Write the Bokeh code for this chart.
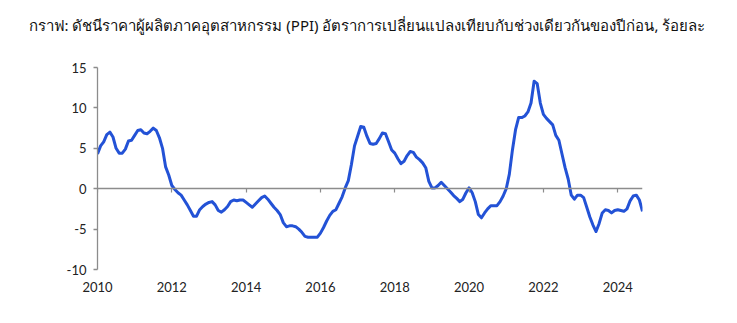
from bokeh.plotting import figure
from bokeh.models import LinearAxis, FixedTicker, Range1d, Title
from bokeh.embed import file_html
from bokeh.resources import INLINE

title_text = "กราฟ: ดัชนีราคาผู้ผลิตภาคอุตสาหกรรม (PPI) อัตราการเปลี่ยนแปลงเทียบกับช่วงเดียวกันของปีก่อน, ร้อยละ"
start_year = 2010
x_ticks = [2010, 2012, 2014, 2016, 2018, 2020, 2022, 2024]
y_ticks = [-10, -5, 0, 5, 10, 15]

ppi_2010 = [4.3, 5.3, 5.8, 6.7, 7.0, 6.4, 5.0, 4.4, 4.4, 4.9, 5.9, 6.0]
ppi_2011 = [6.6, 7.2, 7.3, 6.9, 6.8, 7.1, 7.5, 7.2, 6.3, 5.0, 2.7, 1.7]
ppi_2012 = [0.4, -0.1, -0.5, -0.8, -1.4, -2.0, -2.7, -3.4, -3.4, -2.6, -2.2, -1.9]
ppi_2013 = [-1.7, -1.6, -2.0, -2.7, -2.9, -2.6, -2.2, -1.6, -1.4, -1.5, -1.4, -1.4]
ppi_2014 = [-1.7, -2.0, -2.3, -1.9, -1.5, -1.1, -0.9, -1.3, -1.8, -2.3, -2.7, -3.2]
ppi_2015 = [-4.2, -4.7, -4.6, -4.6, -4.7, -5.0, -5.4, -5.9, -6.0, -6.0, -6.0, -6.0]
ppi_2016 = [-5.5, -4.8, -4.0, -3.3, -2.8, -2.6, -1.8, -1.0, 0.1, 1.0, 3.0, 5.3]
ppi_2017 = [6.5, 7.7, 7.6, 6.5, 5.6, 5.5, 5.6, 6.2, 6.9, 6.8, 5.8, 4.8]
ppi_2018 = [4.4, 3.7, 3.1, 3.4, 4.1, 4.6, 4.5, 3.9, 3.6, 3.2, 2.6, 0.9]
ppi_2019 = [0.1, 0.1, 0.4, 0.8, 0.4, 0.0, -0.4, -0.85, -1.2, -1.6, -1.3, -0.5]
ppi_2020 = [0.1, -0.5, -1.6, -3.2, -3.6, -3.0, -2.5, -2.1, -2.1, -2.1, -1.6, -0.9]
ppi_2021 = [0.0, 1.8, 4.8, 7.3, 8.8, 8.8, 9.0, 9.5, 10.6, 13.3, 13.0, 10.6]
ppi_2022 = [9.2, 8.7, 8.3, 7.9, 6.6, 6.0, 4.3, 2.6, 1.2, -0.8, -1.3, -0.8]
ppi_2023 = [-0.8, -1.1, -2.3, -3.5, -4.5, -5.3, -4.3, -3.0, -2.6, -2.7, -3.0, -2.7]
ppi_2024 = [-2.6, -2.7, -2.8, -2.5, -1.5, -0.9, -0.8, -1.4, -2.8]

ppi = (ppi_2010 + ppi_2011 + ppi_2012 + ppi_2013 + ppi_2014 + ppi_2015 + ppi_2016
       + ppi_2017 + ppi_2018 + ppi_2019 + ppi_2020 + ppi_2021 + ppi_2022 + ppi_2023 + ppi_2024)
months = [start_year + i / 12 for i in range(len(ppi))]

AXIS_GREY = "#8c8c8c"
FONT = "Lato"

p = figure(width=737, height=323, output_backend="svg", toolbar_location=None,
           x_range=Range1d(months[0], months[-1]), y_range=Range1d(-10, 15),
           min_border_left=97, min_border_right=95, min_border_top=67, min_border_bottom=54,
           x_axis_location=None, y_axis_location=None)
p.grid.visible = False
p.outline_line_color = None
p.background_fill_color = "white"
p.border_fill_color = "white"

# y axis
yax = LinearAxis(ticker=FixedTicker(ticks=y_ticks))
yax.axis_line_color = AXIS_GREY
yax.axis_line_width = 1.3
yax.major_tick_line_color = AXIS_GREY
yax.major_tick_line_width = 1.3
yax.major_tick_out = 4
yax.major_tick_in = 0
yax.minor_tick_line_color = None
yax.major_label_standoff = 7
yax.major_label_text_font = FONT
yax.major_label_text_font_size = "13px"
yax.major_label_text_color = "#222222"
yax.major_label_overrides = {t: str(t) for t in y_ticks}
p.add_layout(yax, "left")

# x labels at bottom
xlab = LinearAxis(ticker=FixedTicker(ticks=x_ticks))
xlab.axis_line_color = None
xlab.major_tick_line_color = None
xlab.minor_tick_line_color = None
xlab.major_tick_out = 0
xlab.major_tick_in = 0
xlab.major_label_standoff = 12
xlab.major_label_text_font = FONT
xlab.major_label_text_font_size = "13px"
xlab.major_label_text_color = "#222222"
p.add_layout(xlab, "below")

# zero-crossing axis with ticks
xzero = LinearAxis(ticker=FixedTicker(ticks=x_ticks), fixed_location=0)
xzero.axis_line_color = AXIS_GREY
xzero.axis_line_width = 1.6
xzero.major_tick_line_color = AXIS_GREY
xzero.major_tick_line_width = 1.2
xzero.major_tick_in = 4
xzero.major_tick_out = 0
xzero.minor_tick_line_color = None
xzero.major_label_text_font_size = "0px"
xzero.major_label_text_color = None
p.add_layout(xzero, "above")

p.line(months, ppi, line_color="#2352d6", line_width=3, line_join="round")

# blank spacer keeps the title clear of the plot frame
spacer = Title(text=" ", text_font="Noto Sans", text_font_size="15px", standoff=6)
p.add_layout(spacer, "above")

title = Title(text=title_text, align="left", offset=-69, text_font="Noto Sans",
              text_font_size="15px", text_font_style="normal", text_color="#111111",
              standoff=10)
p.add_layout(title, "above")

open("out.html", "w").write(file_html(p, INLINE))
